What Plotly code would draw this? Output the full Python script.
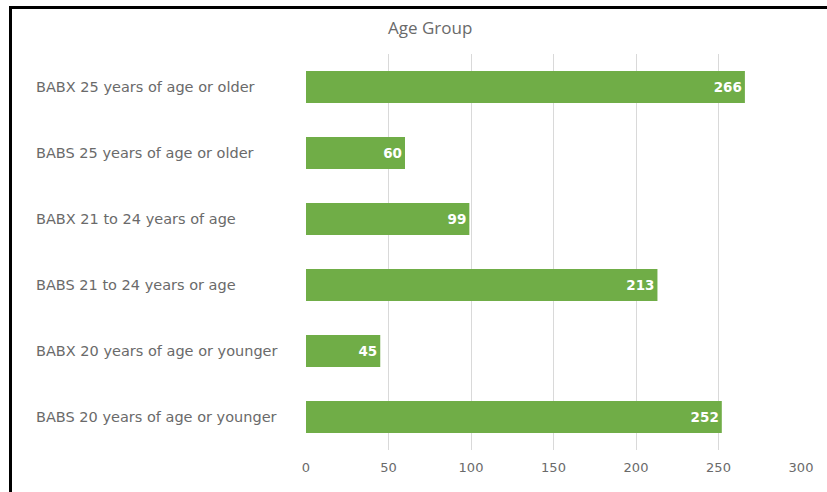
import plotly.graph_objects as go

categories = [
    "BABX 25 years of age or older",
    "BABS 25 years of age or older",
    "BABX 21 to 24 years of age",
    "BABS 21 to 24 years or age",
    "BABX 20 years of age or younger",
    "BABS 20 years of age or younger",
]
values = [266, 60, 99, 213, 45, 252]
x_ticks = [0, 50, 100, 150, 200, 250, 300]

W, H = 827, 492
ml, mr, mt, mb = 306, 26, 54, 42
pw, ph = W - ml - mr, H - mt - mb

def px_x(p):
    return (p - ml) / pw

def px_y(p):
    return 1 - (p - mt) / ph

FONT = "DejaVu Sans"
GRAY = "#6a6a6a"

fig = go.Figure()
fig.add_trace(go.Bar(
    y=categories, x=values, orientation="h",
    marker=dict(color="#70AD47", line=dict(width=0)),
    text=[str(v) for v in values], textposition="inside", insidetextanchor="end",
    textfont=dict(family=FONT, size=13.5, color="white", weight="bold"),
    cliponaxis=False, width=0.485,
))

annotations = []
for c in categories:
    annotations.append(dict(
        x=px_x(34), xref="paper", y=c, yref="y", text=c, showarrow=False,
        xanchor="left", yanchor="middle",
        font=dict(family=FONT, size=14.5, color=GRAY),
    ))
annotations.append(dict(
    x=px_x(430), xref="paper", y=px_y(28), yref="paper", text="Age Group",
    showarrow=False, xanchor="center", yanchor="middle",
    font=dict(family="Open Sans", size=17, color=GRAY),
))

shapes = [
    dict(type="line", xref="paper", yref="paper",
         x0=px_x(10.5), x1=px_x(830), y0=px_y(7.5), y1=px_y(7.5),
         line=dict(color="black", width=3)),
    dict(type="line", xref="paper", yref="paper",
         x0=px_x(10.5), x1=px_x(10.5), y0=px_y(6), y1=px_y(500),
         line=dict(color="black", width=3)),
]

fig.update_layout(
    width=W, height=H, margin=dict(l=ml, r=mr, t=mt, b=mb),
    paper_bgcolor="white", plot_bgcolor="white",
    showlegend=False, bargap=0.515,
    annotations=annotations, shapes=shapes,
    xaxis=dict(range=[0, 300], tickvals=x_ticks, showgrid=True, gridcolor="#d9d9d9",
               gridwidth=1, zeroline=False, showline=False,
               tickfont=dict(family=FONT, size=13, color=GRAY), ticks="", ticklen=0,
               ticklabelstandoff=8),
    yaxis=dict(categoryorder="array", categoryarray=categories[::-1],
               showticklabels=False, showgrid=False, zeroline=False, ticks=""),
    font=dict(family=FONT),
)

fig.write_html("out.html")
